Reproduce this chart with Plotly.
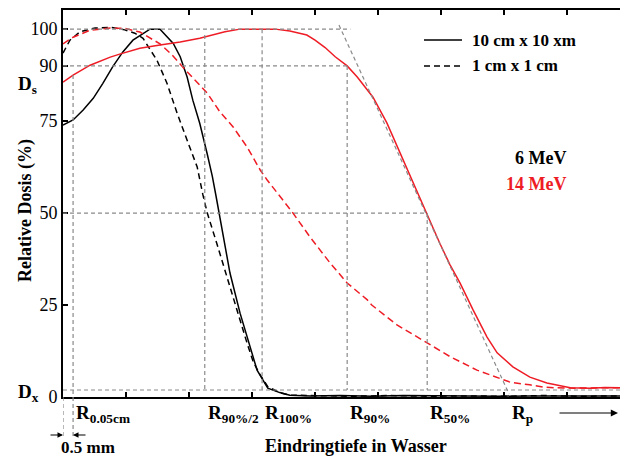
import plotly.graph_objects as go

# ---------------- data ----------------
# depth in tick units (one x tick per unit), relative dose in %
depth_6_10 = [0, 0.16, 0.32, 0.48, 0.63, 0.79, 0.95, 1.11, 1.27, 1.38, 1.54, 1.65, 1.75, 1.86,
              1.97, 2.06, 2.17, 2.29, 2.37, 2.43, 2.48, 2.54, 2.65, 2.81, 2.97, 3.08, 3.25,
              3.44, 3.60, 3.92, 4.40, 4.90, 5.40, 5.90, 6.40, 6.90, 7.40, 7.90, 8.40, 8.84]
dose_6_10 = [73.9, 75.3, 78.0, 81.2, 85.2, 89.8, 93.8, 97.0, 98.8, 100, 100, 97.9, 96.1, 92.5,
             87.0, 80.7, 74.4, 66.0, 60.0, 54.5, 49.5, 44.6, 33.7, 22.8, 13.6, 7.3, 2.4,
             1.2, 0.5, 0.3, 0.4, 0.2, 0.4, 0.3, 0.4, 0.2, 0.3, 0.3, 0.2, 0.3]

depth_6_1 = [0, 0.11, 0.27, 0.51, 0.75, 0.98, 1.14, 1.27, 1.38, 1.49, 1.65, 1.81, 1.97, 2.13,
             2.22, 2.29, 2.44, 2.60, 2.78, 2.92, 3.02, 3.13, 3.25, 3.44, 3.60, 4.00, 4.60,
             5.20, 5.80, 6.40, 7.00, 7.60, 8.20, 8.84]
dose_6_1 = [93.5, 97.0, 99.3, 100.3, 100.5, 99.8, 98.9, 97.5, 94.5, 91.6, 85.3, 77.2, 69.8, 62.5,
            55.0, 50.0, 41.8, 32.6, 22.8, 14.7, 9.5, 6.0, 2.8, 1.2, 0.5, 0.3, 0.2,
            0.4, 0.2, 0.3, 0.2, 0.4, 0.2, 0.3]

depth_14_10 = [0, 0.16, 0.43, 0.75, 0.90, 1.22, 1.54, 1.86, 2.17, 2.38, 2.57, 2.81, 3.13, 3.37,
               3.60, 3.87, 4.00, 4.16, 4.32, 4.51, 4.67, 4.92, 5.14, 5.35, 5.46, 5.75, 5.98,
               6.14, 6.30, 6.51, 6.73, 6.89, 7.14, 7.41, 7.68, 8.05, 8.37, 8.60, 8.84]
dose_14_10 = [85.6, 87.5, 90.2, 92.4, 93.2, 94.8, 95.7, 96.5, 97.5, 98.4, 99.3, 100, 100, 100,
              99.5, 98.4, 97.0, 95.0, 92.5, 90.0, 87.0, 81.5, 74.5, 66.3, 62.0, 50.5, 41.8,
              36.0, 31.0, 23.6, 16.3, 12.0, 8.2, 5.4, 3.8, 2.5, 2.4, 2.6, 2.5]

depth_14_1 = [0, 0.16, 0.43, 0.75, 0.98, 1.22, 1.54, 1.73, 1.90, 2.10, 2.29, 2.49, 2.70, 2.92,
              3.13, 3.24, 3.49, 3.65, 3.92, 4.24, 4.51, 4.83, 4.90, 5.30, 5.78, 6.14, 6.57,
              6.86, 7.10, 7.41, 7.62, 7.81, 8.13, 8.52, 8.84]
dose_14_1 = [96.0, 97.8, 99.7, 100.3, 100.2, 99.2, 96.0, 93.0, 89.7, 86.0, 82.6, 77.5, 73.4, 68.0,
             61.7, 59.0, 53.5, 50.0, 43.5, 36.4, 31.0, 26.4, 25.0, 19.6, 14.7, 11.0, 7.3,
             5.5, 4.0, 3.3, 2.7, 2.5, 2.4, 2.5, 2.5]

y_ticks = [0, 25, 50, 75, 90, 100]
x_ticks = [1, 2, 3, 4, 5, 6, 7, 8]
ds_level = 90
dx_level = 1.9
r_names = ["R<sub>0.05cm</sub>", "R<sub>90%/2</sub>", "R<sub>100%</sub>",
           "R<sub>90%</sub>", "R<sub>50%</sub>", "R<sub>p</sub>"]
r_pos = [0.16, 2.25, 3.16, 4.51, 5.78, 7.08]
r_top = [87.5, 98.4, 100, 90, 50]          # upper end of the vertical guides
tangent_x = [4.38, 7.08]
tangent_y = [101.1, 0.8]
legend_names = ["10 cm x 10 xm", "1 cm x 1 cm"]
energy_names = ["6 MeV", "14 MeV"]

# ---------------- styling ----------------
XMAX, YMAX = 8.84, 105.2
W, H = 620, 459
L, R, T, B = 63, 0, 10, 62
PW, PH = W - L - R, H - T - B
FONT = "Liberation Serif"
RED = "#ee1c25"
GRAY = "#8a8a8a"


def px_x(p):
    return (p - L) / PW


def px_y(p):
    return (H - B - p) / PH


fig = go.Figure()
curve_style = [
    (depth_6_10, dose_6_10, "black", "solid"),
    (depth_6_1, dose_6_1, "black", "6px,4px"),
    (depth_14_10, dose_14_10, RED, "solid"),
    (depth_14_1, dose_14_1, RED, "7px,4px"),
]
for xs, ys, col, dash in curve_style:
    fig.add_trace(go.Scatter(x=xs, y=ys, mode="lines", showlegend=False,
                             line=dict(color=col, width=1.5, dash=dash)))

shapes = []
gl = dict(color=GRAY, width=1.2, dash="4px,3px")
# horizontal guides
shapes.append(dict(type="line", xref="x", yref="y", x0=0, x1=4.56, y0=100, y1=100, line=gl))
shapes.append(dict(type="line", xref="x", yref="y", x0=0, x1=r_pos[3], y0=ds_level, y1=ds_level, line=gl))
shapes.append(dict(type="line", xref="x", yref="y", x0=0, x1=r_pos[4], y0=50, y1=50, line=gl))
shapes.append(dict(type="line", xref="x", yref="y", x0=0, x1=XMAX, y0=dx_level, y1=dx_level, line=gl))
# vertical guides
shapes.append(dict(type="line", xref="x", yref="paper", x0=r_pos[0], x1=r_pos[0],
                   y0=r_top[0] / YMAX, y1=px_y(437), line=gl))
shapes.append(dict(type="line", xref="x", yref="paper", x0=0, x1=0,
                   y0=0, y1=px_y(437), line=gl))
for xp, yt in zip(r_pos[1:5], r_top[1:5]):
    shapes.append(dict(type="line", xref="x", yref="y", x0=xp, x1=xp, y0=yt, y1=dx_level, line=gl))
shapes.append(dict(type="line", xref="x", yref="y", x0=tangent_x[0], x1=tangent_x[1],
                   y0=tangent_y[0], y1=tangent_y[1], line=gl))
# legend samples
shapes.append(dict(type="line", xref="paper", yref="paper", x0=px_x(424), x1=px_x(462),
                   y0=px_y(40), y1=px_y(40), line=dict(color="black", width=1.5)))
shapes.append(dict(type="line", xref="paper", yref="paper", x0=px_x(424), x1=px_x(462),
                   y0=px_y(66), y1=px_y(66), line=dict(color="black", width=1.5, dash="6px,4px")))

ann = []
tf = dict(family=FONT, size=17, color="black")
bf = dict(family=FONT, size=18, color="black")
rf = dict(family=FONT, size=19, color="black")


def text(t, x, y, font=tf, xa="center", ya="middle", **kw):
    ann.append(dict(text=t, xref="paper", yref="paper", x=x, y=y, xanchor=xa, yanchor=ya,
                    showarrow=False, font=font, **kw))


for name, xp in zip(r_names, r_pos):
    ann.append(dict(text="<b>" + name + "</b>", xref="x", yref="paper", x=xp, y=px_y(400),
                    xanchor="left", yanchor="top", showarrow=False, font=rf, xshift=1))
text("<b>Eindringtiefe in Wasser</b>", px_x(356), px_y(446), font=bf)
text("<b>Relative Dosis (%)</b>", px_x(25), px_y(211), font=bf, textangle=-90)
text("<b>0.5 mm</b>", px_x(88), px_y(447))
text("<b>D<sub>s</sub></b>", px_x(16), px_y(85), font=rf, xa="left")
text("<b>D<sub>x</sub></b>", px_x(16), px_y(393), font=rf, xa="left")
for i, nm in enumerate(legend_names):
    text("<b>" + nm + "</b>", px_x(470), px_y(40 + 26 * i), xa="left")
for i, (nm, col) in enumerate(zip(energy_names, ["black", RED])):
    text("<b>" + nm + "</b>", px_x(568), px_y(158 + 26 * i), xa="right",
         font=dict(family=FONT, size=18, color=col))
# arrows
ann.append(dict(text="", xref="paper", yref="paper", x=px_x(618), y=px_y(413), ax=-60, ay=0,
                showarrow=True, arrowhead=2, arrowsize=1.2, arrowwidth=1.2, arrowcolor="black"))
ann.append(dict(text="", xref="paper", yref="paper", x=px_x(63), y=px_y(435), ax=-14, ay=0,
                showarrow=True, arrowhead=2, arrowsize=1, arrowwidth=1.1, arrowcolor="black"))
ann.append(dict(text="", xref="paper", yref="paper", x=px_x(73), y=px_y(435), ax=14, ay=0,
                showarrow=True, arrowhead=2, arrowsize=1, arrowwidth=1.1, arrowcolor="black"))

fig.update_layout(
    width=W, height=H, margin=dict(l=L, r=R, t=T, b=B, pad=0),
    paper_bgcolor="white", plot_bgcolor="white", showlegend=False,
    shapes=shapes, annotations=ann,
    xaxis=dict(range=[0, XMAX], tickvals=x_ticks, showticklabels=False, ticks="inside",
               ticklen=5, tickwidth=1.5, tickcolor="black", showline=True, linecolor="black",
               linewidth=1.5, mirror="ticks", showgrid=False, zeroline=False),
    yaxis=dict(range=[0, YMAX], tickvals=y_ticks, ticks="inside", ticklen=5, tickwidth=2,
               tickcolor="black", showline=True, linecolor="black", linewidth=2,
               showgrid=False, zeroline=False,
               tickfont=dict(family=FONT, size=18, color="black")),
)
fig.write_html("out.html")
